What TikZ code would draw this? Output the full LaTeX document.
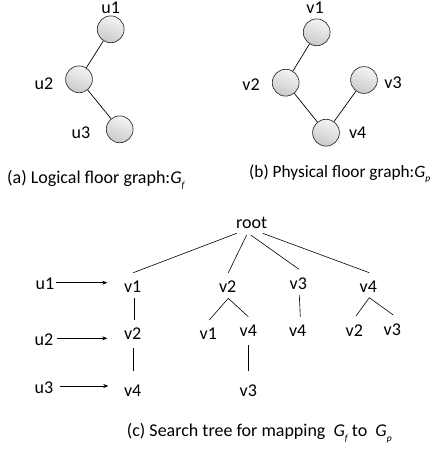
\documentclass[tikz,border=0pt]{standalone}
\usepackage{fontspec}
\setmainfont{Carlito}
\usetikzlibrary{calc,arrows.meta}
\newcommand{\Gsub}[1]{{\itshape G}\raisebox{-4.5pt}{\fontsize{9.5}{9.5}\selectfont\itshape #1}}
\begin{document}
\begin{tikzpicture}[x=1pt,y=-1pt,
  every node/.style={font=\fontsize{18}{20}\selectfont, inner sep=1pt},
  vertex/.style={circle, minimum size=26.8pt, inner sep=0pt, draw=black!80, line width=0.7pt,
    top color=gray!8, bottom color=gray!42, shading angle=-20},
  edge/.style={draw=black, line width=0.7pt},
  link/.style={draw=black, line width=0.6pt},
  mapto/.style={draw=black, line width=0.6pt, -{Stealth[length=5pt,width=4pt]}},
  caption/.style={anchor=west, font=\fontsize{18}{20}\selectfont}]
\useasboundingbox (0,0) rectangle (435,451);

% (a) logical floor graph
\node[vertex] (a1) at (110.7,29.3) {};
\node[vertex] (a2) at (79,79.3) {};
\node[vertex] (a3) at (119.7,129.3) {};
\node (la1) at (110.7,7.5) {u1};
\node (la2) at (44,84) {u2};
\node (la3) at (81,133) {u3};
\draw[edge] (a1) -- (a2);
\draw[edge] (a2) -- (a3);
\node[caption] (capa) at (6,180) {(a) Logical floor graph:\Gsub{f}};

% (b) physical floor graph
\node[vertex] (b1) at (316.7,32.3) {};
\node[vertex] (b2) at (285.7,82.7) {};
\node[vertex] (b3) at (364,80) {};
\node[vertex] (b4) at (326,132.7) {};
\node (lb1) at (315,8) {v1};
\node (lb2) at (251,85) {v2};
\node (lb3) at (393,83) {v3};
\node (lb4) at (357.7,132.7) {v4};
\draw[edge] (b1) -- (b2);
\draw[edge] (b2) -- (b4);
\draw[edge] (b3) -- (b4);
\node[caption, font=\fontsize{17.3}{19}\selectfont] (capb) at (248,174) {(b) Physical floor graph:\Gsub{p}};

% (c) search tree
\node (root) at (251.7,223.3) {root};
\node (t1) at (132.7,286.7) {v1};
\node (t2) at (227.7,286.7) {v2};
\node (t3) at (298.3,284) {v3};
\node (t4) at (368.3,286.7) {v4};
\node (t12) at (132.7,334) {v2};
\node (t124) at (132.7,390.7) {v4};
\node (t21) at (208.3,334) {v1};
\node (t24) at (248.3,331) {v4};
\node (t243) at (248.3,390.7) {v3};
\node (t34) at (297.7,331) {v4};
\node (t42) at (354.3,331) {v2};
\node (t43) at (392.3,330) {v3};

\draw[link] ($(root)+(-15,10)$) -- ($(t1)+(0.6,-14)$);
\draw[link] ($(root)+(-5,11.7)$) -- ($(t2)+(0.6,-14)$);
\draw[link] ($(root)+(-1,11.7)$) -- ($(t3)+(0.7,-14.7)$);
\draw[link] ($(root)+(11,10)$) -- ($(t4)+(1,-14)$);

\draw[link] ($(t1)+(1.3,11.6)$) -- ($(t12)+(1.3,-14)$);
\draw[link] ($(t12)+(0.3,14.3)$) -- ($(t124)+(0.3,-20)$);
\draw[link] ($(t2)+(0.6,11.6)$) -- ($(t21)+(1,-14)$);
\draw[link] ($(t2)+(0.6,11.6)$) -- ($(t24)+(0,-14.3)$);
\draw[link] ($(t24)+(0,14)$) -- ($(t243)+(0,-20)$);
\draw[link] ($(t3)+(1,11)$) -- ($(t34)+(2.6,-14.3)$);
\draw[link] ($(t4)+(1,11)$) -- ($(t42)+(1.7,-15)$);
\draw[link] ($(t4)+(1,11)$) -- ($(t43)+(1,-15)$);

\node (u1) at (45,284) {u1};
\node (u2) at (44,340) {u2};
\node (u3) at (44,387.3) {u3};
\draw[mapto] ($(u1)+(10.5,-1.3)$) -- ($(t1)+(-25.4,-4)$);
\draw[mapto] ($(u2)+(13,-1.7)$) -- ($(t12)+(-25.4,4.3)$);
\draw[mapto] ($(u3)+(15.5,-1.3)$) -- ($(t124)+(-24.4,-4.7)$);

\node[caption] (capc) at (125.7,433.3) {(c) Search tree for mapping\ \ \Gsub{f} to\ \ \Gsub{p}};
\end{tikzpicture}
\end{document}
